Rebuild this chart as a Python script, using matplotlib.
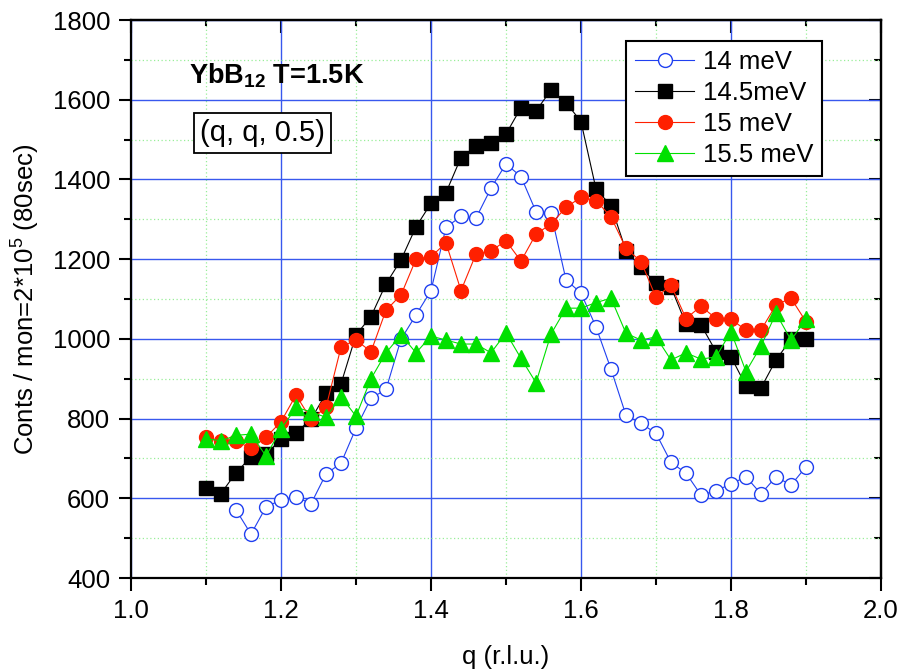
import numpy as np
import matplotlib
matplotlib.use("Agg")
import matplotlib.pyplot as plt
from matplotlib.ticker import MultipleLocator

plt.rcParams['font.family'] = ['Liberation Sans', 'DejaVu Sans']
plt.rcParams['mathtext.fontset'] = 'custom'
plt.rcParams['mathtext.rm'] = 'Liberation Sans'
plt.rcParams['mathtext.it'] = 'Liberation Sans:italic'
plt.rcParams['mathtext.bf'] = 'Liberation Sans:bold'

nan = np.nan
q = [1.10, 1.12, 1.14, 1.16, 1.18, 1.20, 1.22, 1.24, 1.26, 1.28,
     1.30, 1.32, 1.34, 1.36, 1.38, 1.40, 1.42, 1.44, 1.46, 1.48,
     1.50, 1.52, 1.54, 1.56, 1.58, 1.60, 1.62, 1.64, 1.66, 1.68,
     1.70, 1.72, 1.74, 1.76, 1.78, 1.80, 1.82, 1.84, 1.86, 1.88, 1.90]

e14 = [nan, nan, 571, 510, 578, 596, 604, 586, 661, 688,
       776, 851, 873, 999, 1060, 1121, 1280, 1307, 1303, 1378,
       1439, 1407, 1319, 1315, 1148, 1115, 1030, 924, 808, 788,
       763, 690, 663, 608, 619, 636, 654, 611, 654, 633, 679]

e145 = [625, 612, 664, 704, 711, 748, 765, 798, 863, 887,
        1010, 1056, 1138, 1198, 1281, 1340, 1367, 1455, 1484, 1492,
        1514, 1580, 1572, 1624, 1593, 1545, 1376, 1334, 1221, 1180,
        1139, 1130, 1037, 1035, 968, 955, 882, 877, 947, 999, 999]

e15 = [753, 744, 744, 725, 753, 792, 859, 798, 828, 979,
       997, 968, 1072, 1110, 1200, 1206, 1241, 1121, 1213, 1221,
       1246, 1195, 1263, 1288, 1330, 1355, 1347, 1306, 1227, 1194,
       1104, 1135, 1051, 1082, 1051, 1049, 1022, 1022, 1085, 1102, 1043]

e155 = [750, 744, 758, 761, 706, 773, 828, 817, 803, 855,
        806, 900, 965, 1010, 965, 1007, 997, 987, 987, 965,
        1015, 951, 890, 1012, 1077, 1077, 1091, 1102, 1014, 997,
        1005, 947, 965, 949, 955, 1018, 918, 982, 1064, 997, 1049]

labels = ["14 meV", "14.5meV", "15 meV", "15.5 meV"]

fig = plt.figure(figsize=(9.03, 6.70), dpi=100)
ax = fig.add_axes([131/903, 92/670, 750/903, 558/670])

ax.plot(q, e14, '-o', color='#2040f0', lw=0.8, ms=10, mfc='white', mec='#2040f0', mew=1.0,
        label=labels[0], zorder=3)
ax.plot(q, e145, '-s', color='black', lw=0.8, ms=10, mfc='black', mec='black',
        label=labels[1], zorder=4)
ax.plot(q, e15, '-o', color='#ff2000', lw=0.8, ms=10, mfc='#ff2000', mec='#ff2000',
        label=labels[2], zorder=5)
ax.plot(q, e155, '-^', color='#00e000', lw=0.8, ms=11, mfc='#00e000', mec='#00e000',
        label=labels[3], zorder=6)

ax.set_xlim(1.0, 2.0)
ax.set_ylim(400, 1800)
ax.xaxis.set_major_locator(MultipleLocator(0.2))
ax.xaxis.set_minor_locator(MultipleLocator(0.1))
ax.yaxis.set_major_locator(MultipleLocator(200))
ax.yaxis.set_minor_locator(MultipleLocator(100))
ax.xaxis.set_major_formatter(matplotlib.ticker.FormatStrFormatter('%.1f'))

ax.grid(which='major', color='#3858ee', lw=1.0, ls='-', zorder=0)
ax.grid(which='minor', color='#99ee99', lw=0.9, ls=(0, (1, 2)), zorder=0)
ax.set_axisbelow(True)

for s in ax.spines.values():
    s.set_linewidth(1.6)

ax.tick_params(axis='both', which='major', direction='out', length=9, width=1.5,
               labelsize=18.5, pad=6)
ax.tick_params(axis='both', which='minor', direction='out', length=5, width=1.5)

secx = ax.secondary_xaxis('top')
secx.xaxis.set_major_locator(MultipleLocator(0.2))
secx.xaxis.set_minor_locator(MultipleLocator(0.1))
secx.tick_params(which='major', direction='in', length=9, width=1.5, labeltop=False)
secx.tick_params(which='minor', direction='in', length=4, width=1.5)
secx.spines['top'].set_linewidth(1.6)

secy = ax.secondary_yaxis('right')
secy.yaxis.set_major_locator(MultipleLocator(200))
secy.yaxis.set_minor_locator(MultipleLocator(100))
secy.tick_params(which='major', direction='in', length=9, width=1.5, labelright=False)
secy.tick_params(which='minor', direction='in', length=5, width=1.5)
secy.spines['right'].set_linewidth(1.6)

ax.set_xlabel("q (r.l.u.)", fontsize=18.5, labelpad=16)
ax.set_ylabel(r"Conts / mon=2*10$^5$ (80sec)", fontsize=18.5, labelpad=8)

leg = ax.legend(loc='upper left', bbox_to_anchor=(0.66, 0.963), fontsize=18.5,
                frameon=True, fancybox=False, edgecolor='black', framealpha=1,
                handlelength=2.3, handletextpad=0.35, labelspacing=0.28,
                borderpad=0.35, borderaxespad=0, numpoints=1)
leg.get_frame().set_linewidth(1.5)
leg.set_zorder(10)

ax.text(0.078, 0.900, r"YbB$_{\mathbf{12}}$ T=1.5K", transform=ax.transAxes,
        fontsize=19.5, fontweight='bold', ha='left', va='center', zorder=10)
ax.text(0.175, 0.798, "(q, q, 0.5)", transform=ax.transAxes, fontsize=21,
        ha='center', va='center', zorder=10,
        bbox=dict(boxstyle='square,pad=0.2', fc='white', ec='black', lw=1.3))

fig.savefig("out.png", dpi=100)
